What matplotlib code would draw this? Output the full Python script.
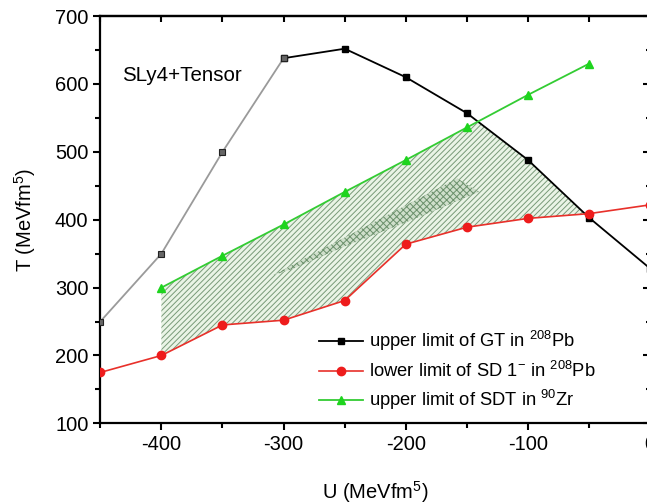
import matplotlib
matplotlib.use('Agg')
import matplotlib.pyplot as plt
from matplotlib.ticker import MultipleLocator
import numpy as np

plt.rcParams['font.family'] = ['Liberation Sans', 'DejaVu Sans']
plt.rcParams['mathtext.fontset'] = 'custom'
plt.rcParams['mathtext.rm'] = 'Liberation Sans'
plt.rcParams['mathtext.it'] = 'Liberation Sans'
plt.rcParams['axes.unicode_minus'] = False
plt.rcParams['hatch.linewidth'] = 0.7

# upper limit of GT in 208Pb
gt_u = [-450, -400, -350, -300, -250, -200, -150, -100, -50, 0]
gt_t = [250, 350, 500, 638, 652, 610, 557, 488, 403, 328]
# lower limit of SD 1- in 208Pb
sd_u = [-450, -400, -350, -300, -250, -200, -150, -100, -50, 0]
sd_t = [175, 200, 245, 252, 281, 364, 389, 402, 409, 422]
# upper limit of SDT in 90Zr
sdt_u = [-400, -350, -300, -250, -200, -150, -100, -50]
sdt_t = [300, 347, 393, 441, 488, 536, 584, 630]
# inner region (denser hatch)
inner_u = [-309, -158, -140, -196, -251, -292]
inner_t = [318, 461, 441, 399, 360, 328]

fig = plt.figure(figsize=(6.47, 5.04), dpi=100)
ax = fig.add_axes([0.155, 0.160, 0.85, 0.808])

# allowed region: between SD (below) and min(SDT, GT) (above)
xs = np.linspace(-400, 0, 2001)
lo = np.interp(xs, sd_u, sd_t)
hi = np.minimum(np.interp(xs, sdt_u, sdt_t, right=np.nan), np.interp(xs, gt_u, gt_t))
ok = hi >= lo
ax.fill_between(xs, lo, hi, where=ok, interpolate=True, facecolor='#eaf4e6',
                edgecolor='#789a78', hatch='//////', linewidth=0, zorder=1)
ax.fill(inner_u, inner_t, facecolor='#cfdfcb', edgecolor='#6a8f6a', hatch='xxxxx',
        linewidth=0, zorder=1.5)

# GT: grey part for U <= -300, black afterwards
ax.plot(gt_u[:4], gt_t[:4], color='#9a9a9a', lw=1.3, zorder=3)
ax.plot(gt_u[:4], gt_t[:4], ls='none', marker='s', ms=4.5, mfc='#666666', mec='#222222',
        mew=0.8, zorder=4)
ax.plot(gt_u[3:], gt_t[3:], color='black', lw=1.3, marker='s', ms=5, zorder=3)
ax.plot(sd_u, sd_t, color='#e8302a', lw=1.2, marker='o', ms=6, mfc='#ee1c1c',
        mec='#ee1c1c', zorder=4)
ax.plot(sdt_u, sdt_t, color='#33cc33', lw=1.3, marker='^', ms=6, mfc='#1ed41e',
        mec='#1ed41e', zorder=4)

# legend handles
h1, = ax.plot([], [], color='black', lw=1.3, marker='s', ms=5)
h2, = ax.plot([], [], color='#e8302a', lw=1.2, marker='o', ms=6, mfc='#ee1c1c', mec='#ee1c1c')
h3, = ax.plot([], [], color='#33cc33', lw=1.3, marker='^', ms=6, mfc='#1ed41e', mec='#1ed41e')
ax.legend([h1, h2, h3],
          ['upper limit of GT in $^{208}$Pb',
           'lower limit of SD 1$^{-}$ in $^{208}$Pb',
           'upper limit of SDT in $^{90}$Zr'],
          loc='lower left', bbox_to_anchor=(0.378, 0.0), borderaxespad=0.2,
          frameon=False, fontsize=13.2,
          handlelength=2.4, handletextpad=0.3, labelspacing=0.4)

ax.text(-432, 613, 'SLy4+Tensor', fontsize=14.8, va='center', ha='left')

ax.set_xlim(-450, 0)
ax.set_ylim(100, 700)
ax.xaxis.set_major_locator(MultipleLocator(100))
ax.xaxis.set_minor_locator(MultipleLocator(50))
ax.yaxis.set_major_locator(MultipleLocator(100))
ax.yaxis.set_minor_locator(MultipleLocator(50))
ax.tick_params(which='both', direction='out', width=1.5, labelsize=14.5)
ax.tick_params(which='major', length=5)
ax.tick_params(which='minor', length=3.5)
for s in ax.spines.values():
    s.set_linewidth(1.6)

top = ax.secondary_xaxis('top')
top.xaxis.set_major_locator(MultipleLocator(50))
top.tick_params(direction='in', length=4, width=1.5, labeltop=False)
top.spines['top'].set_linewidth(1.6)
right = ax.secondary_yaxis('right')
right.yaxis.set_major_locator(MultipleLocator(100))
right.yaxis.set_minor_locator(MultipleLocator(50))
right.tick_params(which='both', direction='in', width=1.5, labelright=False)
right.tick_params(which='major', length=5)
right.tick_params(which='minor', length=3)

ax.set_xlabel('U (MeVfm$^5$)', fontsize=14.5, labelpad=18)
ax.set_ylabel('T (MeVfm$^5$)', fontsize=14.5, labelpad=12)

fig.savefig('out.png', dpi=100)
